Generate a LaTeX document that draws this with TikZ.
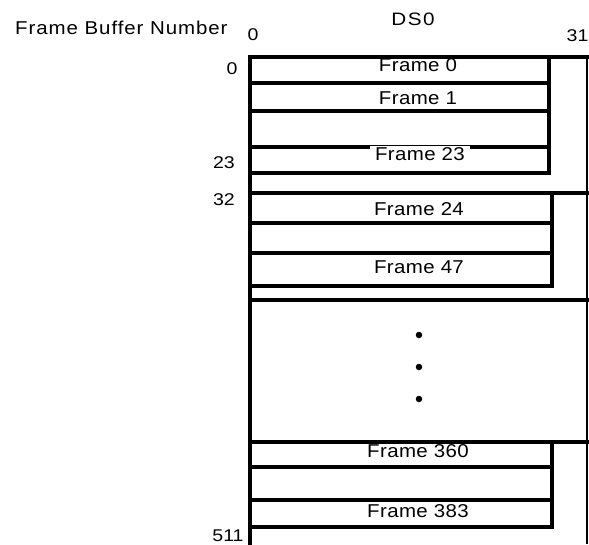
\documentclass[tikz,border=0pt]{standalone}
\usepackage{fontspec}
\setmainfont{Liberation Sans}
\begin{document}
\begin{tikzpicture}[x=1pt,y=-1pt,
  heavy/.style={line width=3.6pt,line cap=rect},
  light/.style={line width=1.8pt},
  framelbl/.style={anchor=base,inner sep=0pt,font=\fontsize{18.6}{20}\selectfont\addfontfeature{FakeStretch=1.1,LetterSpace=2}},
  numlbl/.style={anchor=base,inner sep=0pt,font=\fontsize{17}{18}\selectfont\addfontfeature{FakeStretch=1.15}},
  dot/.style={circle,fill=black,inner sep=0pt,minimum size=6.5pt}]
\useasboundingbox (0,0) rectangle (589,544);
% headings
\node[anchor=base west,inner sep=0pt,font=\fontsize{18.6}{20}\selectfont\addfontfeature{FakeStretch=1.1,LetterSpace=5}] (fbn) at (15,34) {Frame Buffer Number};
\node[numlbl] (c0) at (253,40) {0};
\node[numlbl,font=\fontsize{18}{19}\selectfont\addfontfeature{FakeStretch=1.15,LetterSpace=8}] (ds0) at (413,25) {DS0};
\node[numlbl] (c31) at (577.5,41.7) {31};
\node[numlbl] (r0) at (232,74) {0};
\node[numlbl] (r23) at (224,168.3) {23};
\node[numlbl] (r32) at (224,205) {32};
\node[numlbl] (r511) at (228,541.3) {511};
% frame labels (lines are drawn over them)
\node[framelbl] (f0) at (418,71.5) {Frame 0};
\node[framelbl] (f1) at (418,104) {Frame 1};
\node[framelbl] (f24) at (419,215) {Frame 24};
\node[framelbl] (f47) at (419,273) {Frame 47};
\node[framelbl] (f360) at (418,457) {Frame 360};
\node[framelbl] (f383) at (418,517) {Frame 383};
% outer frame
\draw[light] (587,57) -- (587,544);
\draw[heavy] (250,544) -- (250,57) -- (587,57);
% group 1
\draw[heavy] (250,57) rectangle (549,173);
\draw[heavy] (250,83) -- (549,83);
\draw[heavy] (250,111) -- (549,111);
\draw[heavy] (250,147) -- (549,147);
% separator
\draw[heavy] (250,193) -- (587,193);
% group 2
\draw[heavy] (250,193) -- (552,193) -- (552,286) -- (250,286);
\draw[heavy] (250,223) -- (552,223);
\draw[heavy] (250,253) -- (552,253);
\draw[heavy] (250,300) -- (587,300);
% dots
\node[dot] (d1) at (419,335) {};
\node[dot] (d2) at (419,367) {};
\node[dot] (d3) at (419,399) {};
\draw[heavy] (250,442) -- (587,442);
% group 3
\draw[heavy] (250,442) -- (552,442) -- (552,527) -- (250,527);
\draw[heavy] (250,467) -- (552,467);
\draw[heavy] (250,500) -- (552,500);
% Frame 23 label over its line
\node[framelbl,fill=white,inner xsep=5pt,inner ysep=1pt] (f23) at (420,160) {Frame 23};
\end{tikzpicture}
\end{document}
